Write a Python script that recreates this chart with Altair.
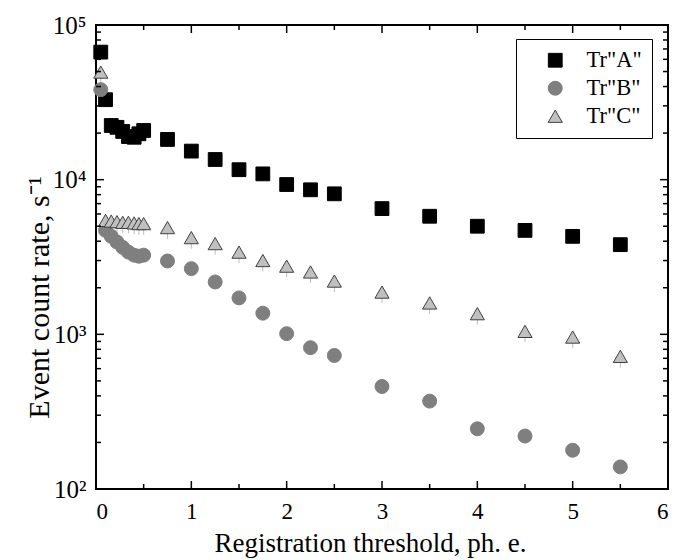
import altair as alt
import pandas as pd

# ---- data ----
x_vals = [0.05, 0.1, 0.16, 0.22, 0.28, 0.34, 0.4, 0.45, 0.5,
          0.75, 1.0, 1.25, 1.5, 1.75, 2.0, 2.25, 2.5, 3.0, 3.5, 4.0, 4.5, 5.0, 5.5]
tr_a = [66800, 32900, 22400, 21800, 20500, 19000, 18800, 19800, 20800,
        18200, 15300, 13500, 11600, 10900, 9300, 8600, 8100, 6500, 5800, 5000, 4700, 4300, 3800]
tr_b = [38200, 4700, 4300, 3950, 3650, 3400, 3250, 3200, 3250,
        2980, 2660, 2180, 1720, 1370, 1010, 820, 730, 460, 370, 245, 220, 178, 139]
tr_c = [49600, 5450, 5400, 5350, 5300, 5300, 5250, 5200, 5200,
        4900, 4220, 3860, 3400, 3000, 2760, 2530, 2210, 1875, 1595, 1360, 1045, 960, 720]
tr_c_low = [42000, 4600, 4600, 4550, 4500, 4500, 4450, 4400, 4400,
            4150, 3580, 3280, 2890, 2550, 2350, 2150, 1880, 1590, 1355, 1155, 890, 815, 610]

series_names = ['Tr"A"', 'Tr"B"', 'Tr"C"']
series_fill = ["#000000", "#7f7f7f", "#c0c0c0"]
series_stroke = ["#000000", "#7f7f7f", "#404040"]
series_shape = ["square", "circle", "triangle-up"]
series_size = [190, 200, 265]

x_major = [0, 1, 2, 3, 4, 5, 6]
x_minor = [0.5, 1.5, 2.5, 3.5, 4.5, 5.5]
y_major = [100, 1000, 10000, 100000]
y_major_labels = ["10²", "10³", "10⁴", "10⁵"]
y_minor = [m * d for d in (100, 1000, 10000) for m in range(2, 10)]

W, H = 572, 464
FONT = "Liberation Serif"

rows = []
for name, vals in zip(series_names, [tr_a, tr_b, tr_c]):
    for x, v in zip(x_vals, vals):
        rows.append({"x": x, "y": v, "series": name})
df = pd.DataFrame(rows)
df_err = pd.DataFrame({"x": x_vals, "y": tr_c, "y2": tr_c_low})

xscale = alt.Scale(domain=[0, 6], nice=False, zero=False)
yscale = alt.Scale(type="log", domain=[100, 100000], nice=False)

label_expr = " : ".join(
    f"datum.value == {v} ? '{l}'" for v, l in zip(y_major[:-1], y_major_labels[:-1])
) + f" : '{y_major_labels[-1]}'"

xaxis = alt.Axis(values=x_major, ticks=False, domain=False, grid=False,
                 labelFont=FONT, labelFontSize=23, labelColor="black", labelPadding=11,
                 title="Registration threshold, ph. e.", titleFont=FONT, titleFontSize=27,
                 titleFontWeight="normal", titleColor="black",
                 titleX=274, titleY=62, titleBaseline="alphabetic")
yaxis = alt.Axis(values=y_major, ticks=False, domain=False, grid=False,
                 labelExpr=label_expr,
                 labelFont=FONT, labelFontSize=25, labelColor="black", labelPadding=10,
                 title="Event count rate, s⁻¹", titleFont=FONT, titleFontSize=30,
                 titleFontWeight="normal", titleColor="black",
                 titleX=-57, titleY=272, titleBaseline="middle", titleAngle=270)

X = lambda f="x": alt.X(f"{f}:Q", scale=xscale, axis=xaxis)
Y = lambda f="y": alt.Y(f"{f}:Q", scale=yscale, axis=yaxis)

err = alt.Chart(df_err).mark_rule(color="#bdbdbd", strokeWidth=1).encode(
    x=X(), y=Y(), y2="y2:Q")

leg = alt.Legend(title=None)
points = alt.Chart(df).mark_point(filled=True, opacity=1, strokeWidth=1).encode(
    x=X(), y=Y(),
    fill=alt.Fill("series:N", scale=alt.Scale(domain=series_names, range=series_fill),
                  legend=leg),
    stroke=alt.Stroke("series:N", scale=alt.Scale(domain=series_names, range=series_stroke),
                      legend=leg),
    shape=alt.Shape("series:N", scale=alt.Scale(domain=series_names, range=series_shape),
                    legend=leg),
    size=alt.Size("series:N", scale=alt.Scale(domain=series_names, range=series_size),
                  legend=leg),
)

def tick_layer(values, field, length, side):
    d = pd.DataFrame({field: values})
    if field == "x":
        enc = dict(x=X())
        if side == "bottom":
            enc.update(y=alt.value(H), y2=alt.value(H - length))
        else:
            enc.update(y=alt.value(0), y2=alt.value(length))
    else:
        enc = dict(y=Y())
        if side == "left":
            enc.update(x=alt.value(0), x2=alt.value(length))
        else:
            enc.update(x=alt.value(W), x2=alt.value(W - length))
    return alt.Chart(d).mark_rule(color="black", strokeWidth=1.5).encode(**enc)

ticks = [
    tick_layer(x_major, "x", 8, "bottom"), tick_layer(x_minor, "x", 5, "bottom"),
    tick_layer(x_major, "x", 8, "top"), tick_layer(x_minor, "x", 5, "top"),
    tick_layer(y_major, "y", 8, "left"), tick_layer(y_minor, "y", 5, "left"),
    tick_layer(y_major, "y", 8, "right"), tick_layer(y_minor, "y", 5, "right"),
]

chart = alt.layer(err, points, *ticks).properties(
    width=W, height=H,
    padding={"left": 96, "top": 25, "right": 20, "bottom": 71},
    autosize=alt.AutoSizeParams(type="none"),
    background="white",
).configure_view(stroke="black", strokeWidth=2).configure_axis(
    labelFont=FONT, titleFont=FONT,
).configure_legend(
    orient="none", legendX=420, legendY=14,
    strokeColor="black", strokeWidth=1, fillColor="white",
    padding=10, labelFont=FONT, labelFontSize=22.5, labelColor="black",
    symbolOffset=18, labelOffset=20, rowPadding=5,
    symbolStrokeWidth=1,
)

chart.save("out.html", embed_options={"renderer": "svg", "actions": False})
